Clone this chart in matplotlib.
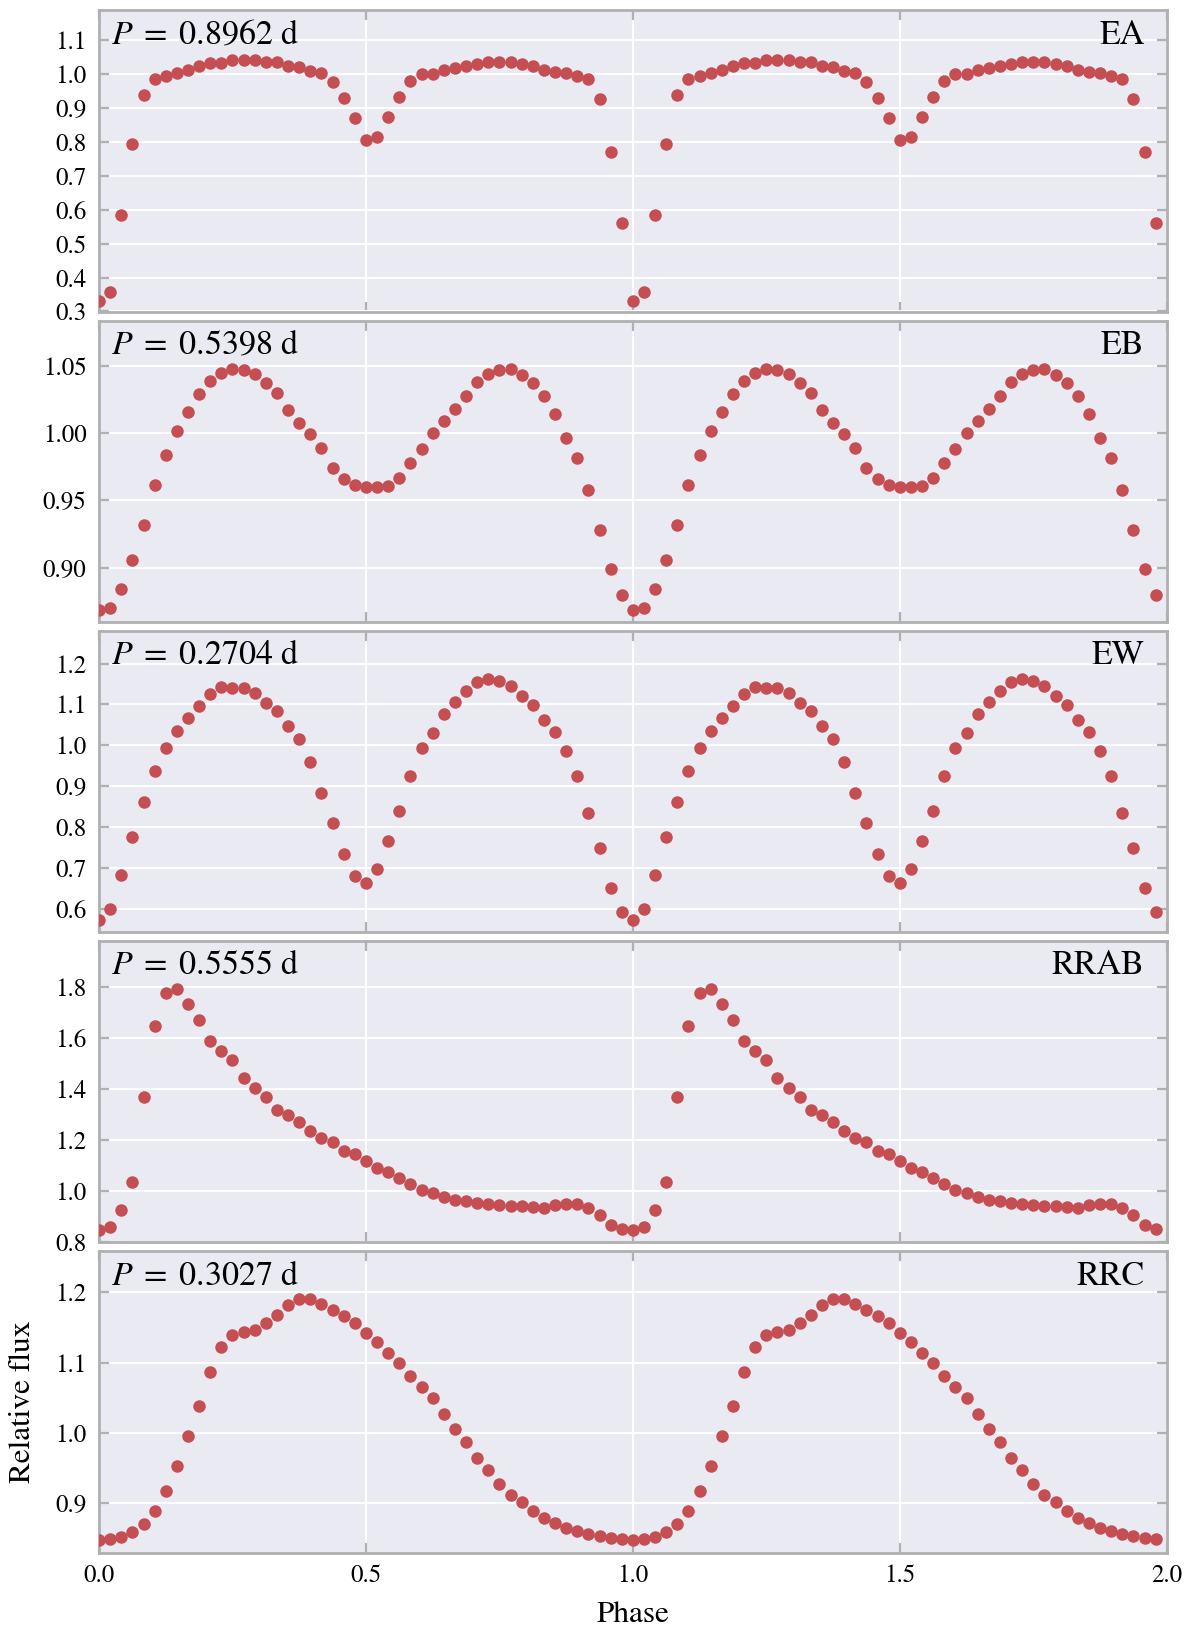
import numpy as np
import matplotlib
matplotlib.use("Agg")
import matplotlib.pyplot as plt

# ---- data (one cycle, 48 phase bins; plotted over two cycles) ----
n_bins = 48
classes = ["EA", "EB", "EW", "RRAB", "RRC"]
periods = ["0.8962", "0.5398", "0.2704", "0.5555", "0.3027"]

ea = [0.332, 0.358, 0.585, 0.793, 0.938, 0.985, 0.995, 1.003, 1.013, 1.023,
      1.032, 1.034, 1.042, 1.040, 1.042, 1.037, 1.035, 1.025, 1.021, 1.010,
      1.003, 0.978, 0.929, 0.869, 0.806, 0.813, 0.872, 0.932, 0.979, 1.000,
      1.001, 1.012, 1.019, 1.025, 1.031, 1.035, 1.037, 1.035, 1.031, 1.025,
      1.013, 1.006, 1.003, 0.995, 0.986, 0.926, 0.769, 0.560]
eb = [0.8686, 0.8698, 0.8843, 0.9059, 0.9316, 0.9617, 0.9841, 1.0017, 1.0154, 1.0289,
      1.0388, 1.0448, 1.0478, 1.0473, 1.0438, 1.0373, 1.0299, 1.0172, 1.0075, 0.9993,
      0.9890, 0.9744, 0.9661, 0.9617, 0.9602, 0.9602, 0.9609, 0.9666, 0.9776, 0.9885,
      1.0000, 1.0092, 1.0179, 1.0276, 1.0383, 1.0436, 1.0468, 1.0478, 1.0433, 1.0373,
      1.0274, 1.0142, 0.9965, 0.9813, 0.9577, 0.9280, 0.8989, 0.8797]
ew = [0.572, 0.600, 0.682, 0.775, 0.861, 0.937, 0.993, 1.036, 1.066, 1.095,
      1.126, 1.143, 1.140, 1.140, 1.128, 1.104, 1.085, 1.046, 1.015, 0.960,
      0.883, 0.809, 0.734, 0.680, 0.663, 0.696, 0.766, 0.840, 0.925, 0.993,
      1.031, 1.077, 1.107, 1.133, 1.155, 1.162, 1.157, 1.146, 1.120, 1.098,
      1.061, 1.032, 0.987, 0.925, 0.833, 0.748, 0.651, 0.592]
rrab = [0.847, 0.860, 0.925, 1.035, 1.369, 1.646, 1.776, 1.791, 1.732, 1.671,
        1.586, 1.549, 1.514, 1.444, 1.403, 1.369, 1.316, 1.297, 1.271, 1.235,
        1.209, 1.193, 1.157, 1.144, 1.118, 1.089, 1.075, 1.052, 1.026, 1.004,
        0.993, 0.976, 0.967, 0.961, 0.953, 0.948, 0.944, 0.941, 0.941, 0.937,
        0.935, 0.945, 0.950, 0.950, 0.932, 0.906, 0.869, 0.852]
rrc = [0.8475, 0.849, 0.852, 0.859, 0.871, 0.889, 0.918, 0.953, 0.996, 1.039,
       1.087, 1.123, 1.139, 1.143, 1.147, 1.157, 1.168, 1.182, 1.190, 1.190,
       1.183, 1.175, 1.167, 1.157, 1.142, 1.129, 1.114, 1.100, 1.081, 1.066,
       1.049, 1.027, 1.005, 0.987, 0.965, 0.947, 0.928, 0.911, 0.902, 0.889,
       0.879, 0.872, 0.865, 0.860, 0.856, 0.854, 0.851, 0.849]
series = [ea, eb, ew, rrab, rrc]

yticks = [
    [0.3, 0.4, 0.5, 0.6, 0.7, 0.8, 0.9, 1.0, 1.1],
    [0.90, 0.95, 1.00, 1.05],
    [0.6, 0.7, 0.8, 0.9, 1.0, 1.1, 1.2],
    [0.8, 1.0, 1.2, 1.4, 1.6, 1.8],
    [0.9, 1.0, 1.1, 1.2],
]
ytick_fmt = ["%.1f", "%.2f", "%.1f", "%.1f", "%.1f"]
ylims = [(0.2995, 1.1876), (0.8597, 1.0836), (0.5426, 1.280), (0.7995, 1.978), (0.8297, 1.2584)]
xticks = [0.0, 0.5, 1.0, 1.5, 2.0]

# ---- style ----
plt.rcParams["font.family"] = ["STIXGeneral", "DejaVu Serif"]
plt.rcParams["mathtext.fontset"] = "stix"

face = "#EAEAF2"
spine_col = "#B0B0B0"
dot_col = "#C44E52"

fig, axes = plt.subplots(5, 1, figsize=(11.93, 16.30), dpi=100, sharex=True)
fig.subplots_adjust(left=0.083, right=0.978, top=0.9936, bottom=0.0475, hspace=0.03)

phase_one = np.arange(n_bins) / n_bins
phase = np.concatenate([phase_one, phase_one + 1.0])

for i, ax in enumerate(axes):
    vals = np.array(series[i])
    flux = np.concatenate([vals, vals])
    ax.set_facecolor(face)
    ax.grid(True, color="white", linewidth=1.4)
    ax.set_axisbelow(True)
    ax.plot(phase, flux, "o", color=dot_col, markersize=9, markeredgewidth=0, zorder=3)
    ax.set_xlim(0, 2)
    ax.set_ylim(*ylims[i])
    ax.set_yticks(yticks[i])
    ax.set_yticklabels([ytick_fmt[i] % v for v in yticks[i]])
    ax.set_xticks(xticks)
    for s in ax.spines.values():
        s.set_color(spine_col)
        s.set_linewidth(2.0)
    ax.tick_params(axis="both", which="both", direction="in", length=7, width=1.6,
                   color=spine_col, top=True, right=True, labelsize=18)
    ax.tick_params(axis="y", pad=9)
    ax.tick_params(axis="x", pad=8)
    ax.text(0.011, 0.968, r"$P\;=\;%s$ d" % periods[i], transform=ax.transAxes,
            ha="left", va="top", fontsize=24.5)
    ax.text(0.979, 0.968, classes[i], transform=ax.transAxes,
            ha="right", va="top", fontsize=24.5)

axes[-1].set_xticklabels(["%.1f" % v for v in xticks])
axes[-1].set_xlabel("Phase", fontsize=22.5, labelpad=10)
axes[-1].set_ylabel("Relative flux", fontsize=22.5, labelpad=13)

fig.savefig("out.png", dpi=100, facecolor="white")
